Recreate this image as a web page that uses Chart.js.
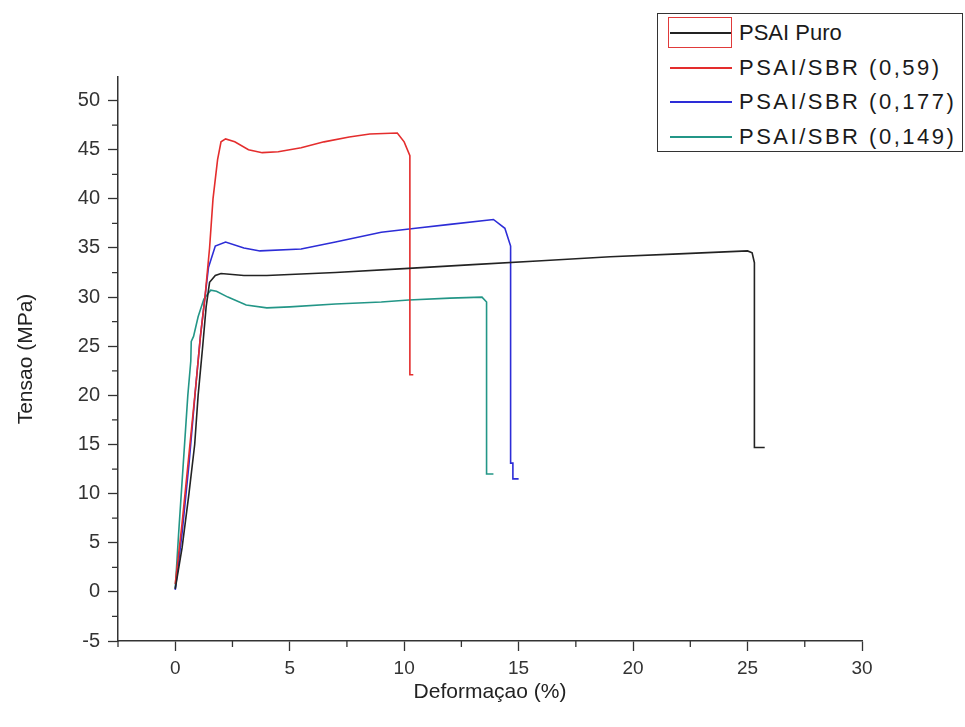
<!DOCTYPE html>
<html>
<head>
<meta charset="utf-8">
<script src="https://cdn.jsdelivr.net/npm/chart.js@4/dist/chart.umd.min.js"></script>
<style>
  html, body { margin: 0; padding: 0; background: #fff; }
  #wrap { position: relative; width: 965px; height: 727px; }
  #legend { position: absolute; left: 657px; top: 13px; width: 306px; height: 139px;
    border: 1.5px solid #333; box-sizing: border-box; font-family: 'Liberation Sans', Arial, sans-serif;
    font-size: 22px; color: #1a1a1a; background: #fff; white-space: nowrap; }
  .row { position: absolute; left: 0; height: 30px; display: flex; align-items: center; }
  .sample { width: 62px; height: 2px; margin-left: 12px; margin-right: 7px; position: relative; }
  .sel { position: absolute; left: -2px; top: -15px; width: 62px; height: 29px; border: 1.5px solid #e03a3a; }
</style>
</head>
<body>
<div id="wrap">
  <canvas id="c" width="965" height="727"></canvas>
  <div id="legend"></div>
</div>
<script>
const seriesNames = ['PSAI Puro', 'PSAI/SBR (0,59)', 'PSAI/SBR (0,177)', 'PSAI/SBR (0,149)'];
const seriesColors = ['rgb(35,35,35)', 'rgb(228,45,45)', 'rgb(45,45,215)', 'rgb(35,150,135)'];

const puroX = [0, 0.3, 0.6, 0.85, 1.0, 1.2, 1.35, 1.5, 1.75, 2.0, 3, 4, 5, 7, 10, 13, 16, 19, 22, 25, 25.2, 25.3, 25.3, 25.75];
const puroY = [0.3, 4.5, 10, 15, 20, 25, 29, 31.5, 32.2, 32.4, 32.2, 32.2, 32.3, 32.5, 32.9, 33.3, 33.7, 34.1, 34.4, 34.7, 34.5, 33.5, 14.7, 14.7];

const sbr59X = [0, 0.3, 0.6, 0.9, 1.1, 1.3, 1.5, 1.65, 1.85, 2.0, 2.2, 2.6, 3.2, 3.8, 4.5, 5.5, 6.5, 7.6, 8.5, 9.7, 10.0, 10.25, 10.25, 10.4];
const sbr59Y = [0.8, 7, 14, 21, 26, 30, 35, 40, 44, 45.8, 46.1, 45.8, 45.0, 44.7, 44.8, 45.2, 45.8, 46.3, 46.6, 46.7, 45.8, 44.4, 22.1, 22.1];

const sbr177X = [0, 0.3, 0.6, 0.9, 1.1, 1.45, 1.75, 2.2, 3.0, 3.7, 5.5, 7, 9, 10.5, 12, 13.9, 14.4, 14.65, 14.65, 14.75, 14.75, 15.0];
const sbr177Y = [0.2, 6, 13, 21, 26, 33, 35.2, 35.6, 35.0, 34.7, 34.9, 35.6, 36.6, 37.0, 37.4, 37.9, 37.0, 35.2, 13.1, 13.1, 11.5, 11.5];

const sbr149X = [0, 0.15, 0.35, 0.55, 0.68, 0.7, 0.8, 1.0, 1.25, 1.55, 1.8, 2.3, 3.1, 4.0, 5, 7, 9, 10.2, 12, 13.4, 13.6, 13.6, 13.9];
const sbr149Y = [0.3, 6, 13, 20, 23.5, 25.5, 26, 28, 29.8, 30.7, 30.6, 30.0, 29.2, 28.9, 29.0, 29.3, 29.5, 29.7, 29.9, 30.0, 29.5, 12.0, 12.0];

const xTicksMajor = [0, 5, 10, 15, 20, 25, 30];
const yTicksMajor = [-5, 0, 5, 10, 15, 20, 25, 30, 35, 40, 45, 50];

const seriesX = [puroX, sbr59X, sbr177X, sbr149X];
const seriesY = [puroY, sbr59Y, sbr177Y, sbr149Y];

const datasets = seriesNames.map((name, i) => ({
  label: name,
  data: seriesX[i].map((x, j) => ({ x: x, y: seriesY[i][j] })),
  borderColor: seriesColors[i],
  backgroundColor: seriesColors[i],
  borderWidth: 1.6,
  showLine: true,
  pointRadius: 0,
  tension: 0,
  fill: false
}));

// HTML legend
const leg = document.getElementById('legend');
seriesNames.forEach((name, i) => {
  const row = document.createElement('div');
  row.className = 'row';
  row.style.top = (4 + i * 34.5) + 'px';
  const s = document.createElement('div');
  s.className = 'sample';
  s.style.background = seriesColors[i];
  if (i === 0) { const sel = document.createElement('div'); sel.className = 'sel'; s.appendChild(sel); }
  row.appendChild(s);
  const t = document.createElement('span');
  t.textContent = name;
  if (i > 0) t.style.letterSpacing = '2.5px';
  row.appendChild(t);
  leg.appendChild(row);
});

const minorTicks = {
  id: 'minorTicks',
  afterDraw(chart) {
    const ctx = chart.ctx;
    const xs = chart.scales.x, ys = chart.scales.y;
    ctx.save();
    ctx.strokeStyle = '#333';
    ctx.lineWidth = 1.3;
    ctx.beginPath();
    for (let v = -2.5; v <= 30; v += 5) {
      const px = xs.getPixelForValue(v);
      ctx.moveTo(px, xs.top); ctx.lineTo(px, xs.top + 6);
    }
    for (let v = -2.5; v <= 52; v += 5) {
      const py = ys.getPixelForValue(v);
      ctx.moveTo(ys.right, py); ctx.lineTo(ys.right - 6, py);
    }
    ctx.stroke();
    ctx.restore();
  }
};

const font = "'Liberation Sans', Arial, sans-serif";
new Chart(document.getElementById('c'), {
  type: 'scatter',
  data: { datasets: datasets },
  plugins: [minorTicks],
  options: {
    responsive: false,
    animation: false,
    layout: { padding: { left: 10, top: 77, right: 103, bottom: 18 } },
    plugins: { legend: { display: false }, tooltip: { enabled: false } },
    scales: {
      x: {
        type: 'linear', min: -2.5, max: 30,
        afterFit(s) { s.height = 727 - 641 - 18; },
        afterBuildTicks(s) { s.ticks = xTicksMajor.map(v => ({ value: v })); },
        grid: { drawOnChartArea: false, tickLength: 10, tickColor: '#333', tickWidth: 1.3 },
        border: { color: '#333', width: 1.5 },
        ticks: { color: '#333', font: { family: font, size: 19 }, padding: 6, maxRotation: 0 },
        title: { display: true, text: 'Deformaçao (%)', color: '#222', font: { family: font, size: 21 } }
      },
      y: {
        type: 'linear', min: -5, max: 52.4,
        afterFit(s) { s.width = 108; },
        afterBuildTicks(s) { s.ticks = yTicksMajor.map(v => ({ value: v })); },
        grid: { drawOnChartArea: false, tickLength: 10, tickColor: '#333', tickWidth: 1.3 },
        border: { color: '#333', width: 1.5 },
        ticks: { color: '#333', font: { family: font, size: 20 }, padding: 8 },
        title: { display: true, text: 'Tensao (MPa)', color: '#222', font: { family: font, size: 21 } }
      }
    }
  }
});
</script>
</body>
</html>
